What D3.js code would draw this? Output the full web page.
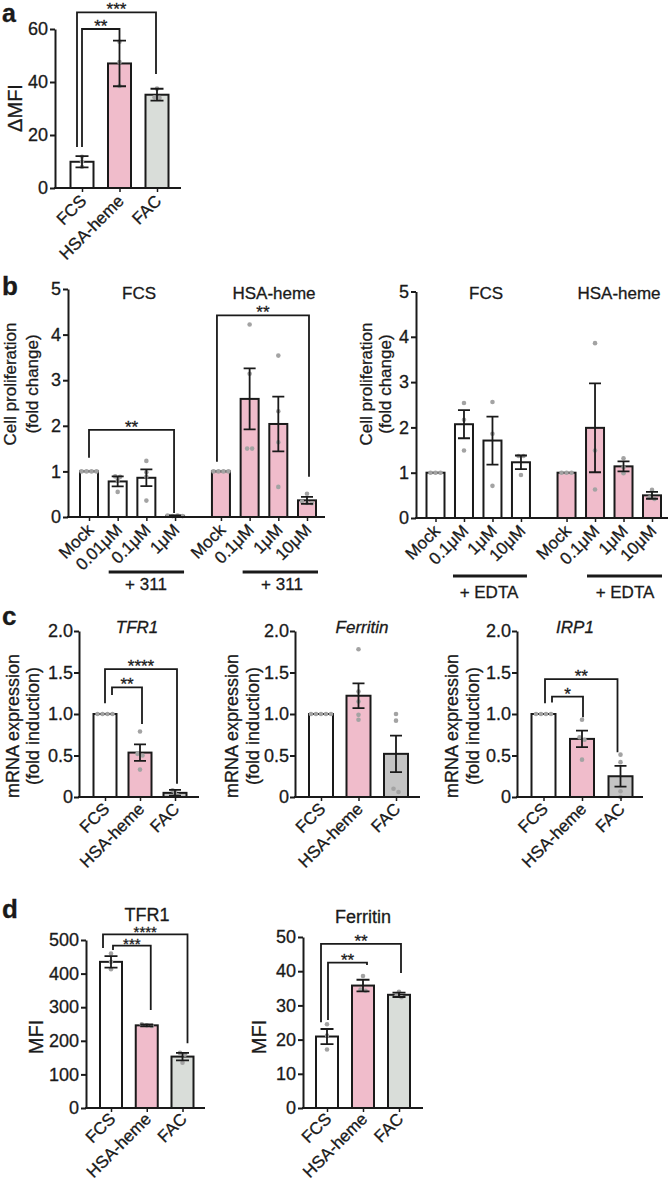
<!DOCTYPE html>
<html><head><meta charset="utf-8">
<script src="https://cdn.jsdelivr.net/npm/d3@7"></script>
<style>body{margin:0;background:#fff} svg{display:block} text{stroke:#1a1a1a;stroke-width:0.3px}</style>
</head><body><svg id="c" width="671" height="1184"></svg>
<script>
// ---------- DATA ----------
// Panel a
const aCategories = ["FCS", "HSA-heme", "FAC"];
const aMeans = [9.9, 47.0, 35.2];
const aSEM = [2.1, 8.6, 2.25];
const aPoints = [[11.8, 10.0, 8.0], [55.2, 47.5, 38.5], [37.5, 34.2, 34.0]];
const aTicks = [0, 20, 40, 60];

// Panel b (left: +311)
const bLeftCategories = ["Mock", "0.01μM", "0.1μM", "1μM", "Mock", "0.1μM", "1μM", "10μM"];
const bLeftGroups = [0, 0, 0, 0, 1, 1, 1, 1];
const bLeftMeans = [1.0, 0.78, 0.86, 0.025, 1.0, 2.59, 2.04, 0.365];
const bLeftSEM = [0, 0.11, 0.185, 0.01, 0, 0.67, 0.6, 0.075];
const bLeftPoints = [[1, 1, 1, 1], [0.89, 0.88, 0.55, 0.8], [1.23, 0.98, 0.88, 0.36], [0.03, 0.02, 0.03, 0.02],
                     [1, 1, 1, 1], [4.22, 3.14, 1.5, 1.5], [3.54, 2.32, 1.64, 0.66], [0.51, 0.34, 0.31, 0.30]];
// Panel b (right: +EDTA)
const bRightCategories = ["Mock", "0.1μM", "1μM", "10μM", "Mock", "0.1μM", "1μM", "10μM"];
const bRightGroups = [0, 0, 0, 0, 1, 1, 1, 1];
const bRightMeans = [1.0, 2.07, 1.71, 1.23, 1.0, 1.99, 1.14, 0.5];
const bRightSEM = [0, 0.31, 0.53, 0.15, 0, 0.98, 0.11, 0.075];
const bRightPoints = [[1, 1, 1], [2.54, 2.17, 1.49], [2.56, 1.86, 0.71], [1.37, 1.37, 0.95],
                      [1, 1, 1], [3.86, 1.49, 0.63], [1.32, 1.12, 0.99], [0.62, 0.45, 0.42]];
const bTicks = [0, 1, 2, 3, 4, 5];
const bGroupTitles = ["FCS", "HSA-heme"];

// Panel c
const cCategories = ["FCS", "HSA-heme", "FAC"];
const cTicks = [0, 0.5, 1.0, 1.5, 2.0];
const cTFR1Means = [1.0, 0.535, 0.05];
const cTFR1SEM = [0, 0.1, 0.035];
const cTFR1Points = [[1, 1, 1, 1], [0.79, 0.52, 0.5, 0.33], [0.08, 0.07, 0.03, 0.02]];
const cFerritinMeans = [1.0, 1.22, 0.52];
const cFerritinSEM = [0, 0.15, 0.22];
const cFerritinPoints = [[1, 1, 1, 1, 1], [1.78, 1.27, 1.15, 0.99, 0.93], [1.0, 0.92, 0.1, 0.06]];
const cIRP1Means = [1.0, 0.70, 0.25];
const cIRP1SEM = [0, 0.1, 0.125];
const cIRP1Points = [[1, 1, 1, 1], [0.93, 0.72, 0.69, 0.45], [0.51, 0.42, 0.07, 0.0]];

// Panel d
const dCategories = ["FCS", "HSA-heme", "FAC"];
const dTFR1Means = [435, 246, 153];
const dTFR1SEM = [17, 3, 11];
const dTFR1Points = [[460, 435, 413], [249, 246, 244], [164, 159, 135]];
const dTFR1Ticks = [0, 100, 200, 300, 400, 500];
const dFerritinMeans = [20.9, 35.8, 33.1];
const dFerritinSEM = [2.2, 1.7, 0.65];
const dFerritinPoints = [[24.5, 21.2, 17.1], [38.6, 34.6, 34.3], [34.0, 32.8, 32.4]];
const dFerritinTicks = [0, 10, 20, 30, 40, 50];

// ---------- DRAWING ----------
const FONT = "'Liberation Sans', Arial, Helvetica, sans-serif";
const PINK = "#f0bccb", GREYGREEN = "#d9ddd9", GREY = "#c4c4c4", WHITE = "#ffffff", INK = "#1a1a1a";
const svg = d3.select("#c");

function txt(x, y, s, o = {}) {
  const t = svg.append("text").attr("x", x).attr("y", y).text(s)
    .attr("font-family", FONT).attr("font-size", o.size || 17).attr("fill", INK)
    .attr("text-anchor", o.anchor || "middle");
  if (o.bold) t.attr("font-weight", "bold");
  if (o.italic) t.attr("font-style", "italic");
  if (o.rot) t.attr("transform", `rotate(${o.rot},${x},${y})`);
  return t;
}

function panel(cfg) {
  const g = svg.append("g");
  const pos = cfg.means.map((d, i) => i + (cfg.groups ? cfg.groups[i] * 0.6 : 0));
  const x = d3.scaleLinear().domain([0, d3.max(pos)]).range([cfg.xFirst, cfg.xLast]);
  const y = d3.scaleLinear().domain([0, cfg.ticks[cfg.ticks.length - 1]]).range([cfg.y0, cfg.yTop]);

  // bars
  g.selectAll("rect").data(cfg.means).join("rect")
    .attr("x", (d, i) => x(pos[i]) - cfg.barW / 2).attr("y", d => y(d))
    .attr("width", cfg.barW).attr("height", d => y(0) - y(d))
    .attr("fill", (d, i) => cfg.colors[i]).attr("stroke", INK).attr("stroke-width", 2);

  // points (spread identical values)
  cfg.points.forEach((pts, i) => {
    const py = pts.map(v => y(v));
    const placed = [];
    pts.forEach((v, j) => {
      const same = py.map((p, k) => [p, k]).filter(([p]) => Math.abs(p - py[j]) < 3.5);
      const idx = same.findIndex(([p, k]) => k === j);
      const off = (idx - (same.length - 1) / 2) * 5;
      placed.push([x(pos[i]) + off, py[j]]);
    });
    g.selectAll(null).data(placed).join("circle")
      .attr("cx", d => d[0]).attr("cy", d => d[1]).attr("r", 2.3)
      .attr("fill", "#a3a3a3");
  });

  // error bars
  cfg.means.forEach((m, i) => {
    const s = cfg.sem[i];
    if (!s) return;
    const cx = x(pos[i]), hw = cfg.capW / 2;
    g.append("path")
      .attr("d", `M${cx},${y(m - s)}V${y(m + s)}M${cx - hw},${y(m + s)}H${cx + hw}M${cx - hw},${y(m - s)}H${cx + hw}`)
      .attr("stroke", INK).attr("stroke-width", 1.8).attr("fill", "none");
  });

  // y axis
  const ya = g.append("g").attr("transform", `translate(${cfg.axisX},0)`)
    .call(d3.axisLeft(y).tickValues(cfg.ticks).tickFormat(cfg.fmt || (d => d))
      .tickSize(5).tickPadding(cfg.tickPad == null ? 2 : cfg.tickPad).tickSizeOuter(0));
  ya.select(".domain").attr("stroke", INK).attr("stroke-width", 2);
  ya.selectAll(".tick line").attr("stroke", INK).attr("stroke-width", 2);
  ya.selectAll(".tick text").attr("font-size", cfg.tickFont || 18).attr("fill", INK)
    .attr("font-family", FONT);

  // x axis
  const xa = g.append("g").attr("transform", `translate(0,${cfg.y0})`)
    .call(d3.axisBottom(x).tickValues(pos).tickFormat((d, i) => cfg.cats[i]).tickSize(4).tickSizeOuter(0));
  xa.select(".domain").remove();
  xa.append("path").attr("d", `M${cfg.axisX - 1},0H${cfg.xEnd}`).attr("stroke", INK).attr("stroke-width", 2);
  xa.selectAll(".tick line").attr("stroke", INK).attr("stroke-width", 1.5);
  xa.selectAll(".tick text").attr("font-size", cfg.xFont || 17).attr("fill", INK).attr("font-family", FONT)
    .attr("x", 0).attr("y", 0).attr("dy", 0).attr("text-anchor", "end")
    .attr("transform", `translate(5,${cfg.xLabDy || 14}) rotate(-45)`);

  // significance brackets
  (cfg.brackets || []).forEach(b => {
    const xa_ = x(pos[b.from]) + (b.offA || 0), xb_ = x(pos[b.to]) + (b.offB || 0);
    g.append("path")
      .attr("d", `M${xa_},${y(b.dropA)}V${y(b.level)}H${xb_}V${y(b.dropB)}`)
      .attr("stroke", INK).attr("stroke-width", 1.8).attr("fill", "none");
    txt((xa_ + xb_) / 2, y(b.level) + 3, b.label, { size: cfg.starFont || 17 });
  });
  return { x, y, pos };
}

// ---- Panel a ----
txt(2, 22, "a", { size: 25, bold: true, anchor: "start" });
panel({
  cats: aCategories, means: aMeans, sem: aSEM, points: aPoints, ticks: aTicks,
  colors: [WHITE, PINK, GREYGREEN], axisX: 55, y0: 188, yTop: 29, xFirst: 82, xLast: 157,
  xEnd: 181, barW: 23, capW: 13,
  brackets: [
    { from: 0, to: 1, level: 60, dropA: 15.5, dropB: 55.6, label: "**" },
    { from: 0, to: 2, level: 66.3, dropA: 15.5, dropB: 43, label: "***", offA: -5, offB: -1 }
  ]
});
txt(22, 108, "ΔMFI", { size: 20, rot: -90 });

// ---- Panel b ----
txt(2, 295, "b", { size: 26, bold: true, anchor: "start" });
const bl = panel({
  cats: bLeftCategories, groups: bLeftGroups, means: bLeftMeans, sem: bLeftSEM, points: bLeftPoints,
  ticks: bTicks, colors: bLeftGroups.map(g => g ? PINK : WHITE), axisX: 68, y0: 517, yTop: 289,
  xFirst: 89, xLast: 307, xEnd: 325, barW: 18, capW: 12,
  brackets: [
    { from: 0, to: 3, level: 1.91, dropA: 1.3, dropB: 0.09, label: "**", offB: -1 },
    { from: 4, to: 7, level: 4.42, dropA: 1.21, dropB: 0.88, label: "**", offA: -4, offB: 2 }
  ]
});
txt(16, 384, "Cell proliferation", { rot: -90 });
txt(38, 384, "(fold change)", { rot: -90 });
txt(139, 299, bGroupTitles[0]);
txt(274, 299, bGroupTitles[1]);
svg.append("path").attr("d", `M${bl.x(bl.pos[1]) - 9},572H${bl.x(bl.pos[3]) + 9}M${bl.x(bl.pos[5]) - 7},572H${bl.x(bl.pos[7]) + 11}`)
  .attr("stroke", INK).attr("stroke-width", 3);
txt(146, 590, "+ 311");
txt(282, 590, "+ 311");

const br = panel({
  cats: bRightCategories, groups: bRightGroups, means: bRightMeans, sem: bRightSEM, points: bRightPoints,
  ticks: bTicks, colors: bRightGroups.map(g => g ? PINK : WHITE), axisX: 416, y0: 518, yTop: 291.5,
  xFirst: 435.5, xLast: 652, xEnd: 668, barW: 18, capW: 12
});
txt(372, 384, "Cell proliferation", { rot: -90 });
txt(391, 384, "(fold change)", { rot: -90 });
txt(486, 299, bGroupTitles[0]);
txt(619, 299, bGroupTitles[1]);
svg.append("path").attr("d", `M${br.x(br.pos[1]) - 11},576H${br.x(br.pos[3]) + 6}M${br.x(br.pos[5]) - 8},576H${br.x(br.pos[7]) + 10}`)
  .attr("stroke", INK).attr("stroke-width", 3);
txt(489, 598, "+ EDTA");
txt(625, 598, "+ EDTA");

// ---- Panel c ----
txt(2, 625, "c", { size: 26, bold: true, anchor: "start" });
const cfmt = d => d === 0 ? "0" : d3.format(".1f")(d);
panel({
  cats: cCategories, means: cTFR1Means, sem: cTFR1SEM, points: cTFR1Points, ticks: cTicks, fmt: cfmt,
  colors: [WHITE, PINK, GREY], axisX: 79, y0: 797, yTop: 631, xFirst: 105, xLast: 175, xEnd: 199,
  barW: 23, capW: 12, tickPad: 1, xLabDy: 13,
  brackets: [
    { from: 0, to: 1, level: 1.32, dropA: 1.23, dropB: 0.88, label: "**", offA: 7, offB: 2 },
    { from: 0, to: 2, level: 1.54, dropA: 1.13, dropB: 0.16, label: "****", offB: 2 }
  ]
});
txt(137, 633, "TFR1", { italic: true });
txt(19, 726, "mRNA expression", { size: 18, rot: -90 });
txt(39, 726, "(fold induction)", { size: 18, rot: -90 });

panel({
  cats: cCategories, means: cFerritinMeans, sem: cFerritinSEM, points: cFerritinPoints, ticks: cTicks, fmt: cfmt,
  colors: [WHITE, PINK, GREY], axisX: 295, y0: 797, yTop: 631, xFirst: 321, xLast: 396, xEnd: 420,
  barW: 24, capW: 12, tickPad: 1, xLabDy: 13
});
txt(362, 633, "Ferritin", { italic: true });
txt(238, 726, "mRNA expression", { size: 18, rot: -90 });
txt(259, 726, "(fold induction)", { size: 18, rot: -90 });

panel({
  cats: cCategories, means: cIRP1Means, sem: cIRP1SEM, points: cIRP1Points, ticks: cTicks, fmt: cfmt,
  colors: [WHITE, PINK, GREY], axisX: 517, y0: 797, yTop: 631, xFirst: 543.5, xLast: 620.5, xEnd: 643,
  barW: 24, capW: 12, tickPad: 1, xLabDy: 13,
  brackets: [
    { from: 0, to: 1, level: 1.21, dropA: 1.14, dropB: 0.96, label: "*", offA: 8.5, offB: 1 },
    { from: 0, to: 2, level: 1.42, dropA: 1.13, dropB: 0.54, label: "**", offA: 1.5, offB: -3 }
  ]
});
txt(575, 633, "IRP1", { italic: true });
txt(458, 726, "mRNA expression", { size: 18, rot: -90 });
txt(479, 726, "(fold induction)", { size: 18, rot: -90 });

// ---- Panel d ----
txt(2, 918, "d", { size: 26, bold: true, anchor: "start" });
panel({
  cats: dCategories, means: dTFR1Means, sem: dTFR1SEM, points: dTFR1Points, ticks: dTFR1Ticks,
  colors: [WHITE, PINK, GREYGREEN], axisX: 86, y0: 1108, yTop: 940, xFirst: 111, xLast: 182.5, xEnd: 205,
  barW: 22, capW: 13, xFont: 17, xLabDy: 12, starFont: 15,
  brackets: [
    { from: 0, to: 2, level: 517, dropA: 476, dropB: 193, label: "****", offA: -8, offB: 5 },
    { from: 0, to: 1, level: 483, dropA: 470, dropB: 292, label: "***", offA: 2, offB: 4 }
  ]
});
txt(147, 921, "TFR1", { size: 18 });
txt(43, 1037, "MFI", { size: 20, rot: -90 });

panel({
  cats: dCategories, means: dFerritinMeans, sem: dFerritinSEM, points: dFerritinPoints, ticks: dFerritinTicks,
  colors: [WHITE, PINK, GREYGREEN], axisX: 303, y0: 1108, yTop: 937, xFirst: 327, xLast: 399, xEnd: 423,
  barW: 22, capW: 13, xFont: 17, xLabDy: 12,
  brackets: [
    { from: 0, to: 1, level: 42.5, dropA: 25.7, dropB: 41.8, label: "**", offA: 1, offB: 4 },
    { from: 0, to: 2, level: 48, dropA: 25.1, dropB: 39.5, label: "**", offA: -6, offB: 2 }
  ]
});
txt(363, 923, "Ferritin", { size: 18 });
txt(266, 1037, "MFI", { size: 20, rot: -90 });
</script></body></html>
